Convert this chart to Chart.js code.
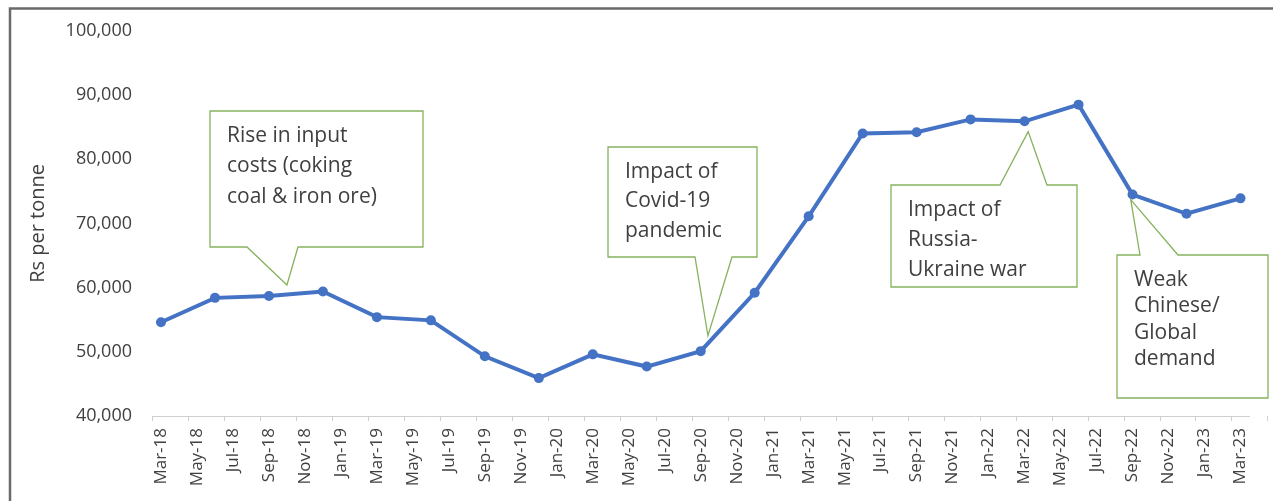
<!DOCTYPE html>
<html>
<head>
<meta charset="utf-8">
<title>Steel price, Rs per tonne</title>
<script src="https://cdn.jsdelivr.net/npm/chart.js@4.4.1/dist/chart.umd.min.js"></script>
<style>
  html, body { margin: 0; padding: 0; background: #ffffff; }
  #wrap { position: relative; width: 1273px; height: 501px; }
</style>
</head>
<body>
<div id="wrap"><canvas id="chart" width="1273" height="501"></canvas></div>
<script>
// Quarterly price points (Rs per tonne), Mar-18 .. Mar-23
const quarters = [
  "Mar-18", "Jun-18", "Sep-18", "Dec-18", "Mar-19", "Jun-19", "Sep-19",
  "Dec-19", "Mar-20", "Jun-20", "Sep-20", "Dec-20", "Mar-21", "Jun-21",
  "Sep-21", "Dec-21", "Mar-22", "Jun-22", "Sep-22", "Dec-22", "Mar-23"
];
const prices = [
  54600, 58400, 58700, 59400, 55400, 54900, 49300,
  45900, 49600, 47700, 50100, 59200, 71100, 84000,
  84200, 86200, 85900, 88500, 74500, 71500, 73900
];

// Axis labels every two months
const tickLabels = [
  "Mar-18", "May-18", "Jul-18", "Sep-18", "Nov-18", "Jan-19", "Mar-19",
  "May-19", "Jul-19", "Sep-19", "Nov-19", "Jan-20", "Mar-20", "May-20",
  "Jul-20", "Sep-20", "Nov-20", "Jan-21", "Mar-21", "May-21", "Jul-21",
  "Sep-21", "Nov-21", "Jan-22", "Mar-22", "May-22", "Jul-22", "Sep-22",
  "Nov-22", "Jan-23", "Mar-23"
];
const yTicks = [40000, 50000, 60000, 70000, 80000, 90000, 100000];

// Callout notes: tip is in data units (month index, value)
const notes = [
  { lines: ["Rise in input", "costs (coking", "coal & iron ore)"], tipX: 7, tipY: 60400,
    box: [210, 111, 423, 247], base: [247, 298], side: "bottom", lh: 30.5 },
  { lines: ["Impact of", "Covid-19", "pandemic"], tipX: 30.4, tipY: 52500,
    box: [608, 147, 757, 257], base: [695, 732], side: "bottom", lh: 29.5 },
  { lines: ["Impact of", "Russia-", "Ukraine war"], tipX: 48.2, tipY: 84300,
    box: [891, 185, 1077, 287], base: [1000, 1047], side: "top", lh: 30 },
  { lines: ["Weak", "Chinese/", "Global", "demand"], tipX: 53.9, tipY: 73700,
    box: [1117, 255, 1268, 398], base: [1140, 1178], side: "top", lh: 26.3 }
];

const FONT = "'Open Sans', Lato, sans-serif";
const BLUE = "#4472C4";
const GREEN = "#86B25E";

const points = prices.map((v, i) => ({ x: i * 3, y: v }));

const framePlugin = {
  id: "frame",
  beforeDraw(chart) {
    const ctx = chart.ctx;
    ctx.save();
    ctx.strokeStyle = "#6a6a6a";
    ctx.lineWidth = 2.5;
    ctx.beginPath();
    ctx.moveTo(10, 501);
    ctx.lineTo(10, 8.5);
    ctx.lineTo(1273, 8.5);
    ctx.stroke();
    ctx.restore();
  }
};

// small tick marks between the month labels, like the original axis
const tickMarkPlugin = {
  id: "tickMarks",
  afterDraw(chart) {
    const xs = chart.scales.x;
    const ctx = chart.ctx;
    const y0 = chart.chartArea.bottom;
    ctx.save();
    ctx.strokeStyle = "#d0d0d0";
    ctx.lineWidth = 1;
    ctx.beginPath();
    for (let i = 0; i <= tickLabels.length; i++) {
      const px = Math.round(xs.getPixelForValue(i * 2 - 0.5)) + 0.5;
      ctx.moveTo(px, y0);
      ctx.lineTo(px, y0 + 5);
    }
    ctx.stroke();
    ctx.restore();
  }
};

const calloutPlugin = {
  id: "callouts",
  afterDatasetsDraw(chart) {
    const ctx = chart.ctx;
    const xs = chart.scales.x;
    const ys = chart.scales.y;
    ctx.save();
    notes.forEach((n) => {
      const [l, t, r, b] = n.box;
      const tx = xs.getPixelForValue(n.tipX);
      const ty = ys.getPixelForValue(n.tipY);
      ctx.beginPath();
      if (n.side === "bottom") {
        ctx.moveTo(l, t);
        ctx.lineTo(r, t);
        ctx.lineTo(r, b);
        ctx.lineTo(n.base[1], b);
        ctx.lineTo(tx, ty);
        ctx.lineTo(n.base[0], b);
        ctx.lineTo(l, b);
      } else {
        ctx.moveTo(l, t);
        ctx.lineTo(n.base[0], t);
        ctx.lineTo(tx, ty);
        ctx.lineTo(n.base[1], t);
        ctx.lineTo(r, t);
        ctx.lineTo(r, b);
        ctx.lineTo(l, b);
      }
      ctx.closePath();
      ctx.fillStyle = "#ffffff";
      ctx.fill();
      ctx.strokeStyle = GREEN;
      ctx.lineWidth = 1.3;
      ctx.stroke();

      ctx.fillStyle = "#404040";
      ctx.font = "21px " + FONT;
      ctx.textBaseline = "middle";
      ctx.textAlign = "left";
      const pad = 17;
      n.lines.forEach((s, i) => {
        ctx.fillText(s, l + pad, t + 25 + i * n.lh);
      });
    });
    ctx.restore();
  }
};

new Chart(document.getElementById("chart"), {
  type: "line",
  data: {
    datasets: [
      {
        label: "Rs per tonne",
        data: points,
        borderColor: BLUE,
        backgroundColor: BLUE,
        borderWidth: 4,
        pointRadius: 5,
        pointBorderWidth: 0,
        pointBackgroundColor: BLUE,
        tension: 0,
      },
    ],
  },
  options: {
    responsive: false,
    animation: false,
    devicePixelRatio: 1,
    layout: { padding: { top: 28, right: 16, left: 0, bottom: 0 } },
    plugins: {
      legend: { display: false },
      tooltip: { enabled: false },
    },
    scales: {
      x: {
        type: "linear",
        min: -0.5,
        max: 60.5,
        afterBuildTicks: (scale) => {
          scale.ticks = tickLabels.map((_, i) => ({ value: i * 2 }));
        },
        afterFit: (scale) => { scale.height = 85; },
        grid: { display: false, drawTicks: false },
        border: { display: true, color: "#d0d0d0", width: 1 },
        ticks: {
          autoSkip: false,
          minRotation: 90,
          maxRotation: 90,
          padding: 12,
          color: "#404040",
          font: { family: FONT, size: 17 },
          callback: (v, i) => tickLabels[i],
        },
      },
      y: {
        min: 40000,
        max: 100000,
        afterBuildTicks: (scale) => {
          scale.ticks = yTicks.map((v) => ({ value: v }));
        },
        afterFit: (scale) => { scale.width = 152; },
        grid: { display: false, drawTicks: false },
        border: { display: false },
        ticks: {
          padding: 20,
          color: "#404040",
          font: { family: FONT, size: 18 },
          callback: (v) => v.toLocaleString("en-US"),
        },
        title: {
          display: true,
          text: "Rs per tonne",
          color: "#404040",
          font: { family: FONT, size: 20 },
          padding: { top: 26, bottom: 0 },
        },
      },
    },
  },
  plugins: [framePlugin, tickMarkPlugin, calloutPlugin],
});
</script>
</body>
</html>
